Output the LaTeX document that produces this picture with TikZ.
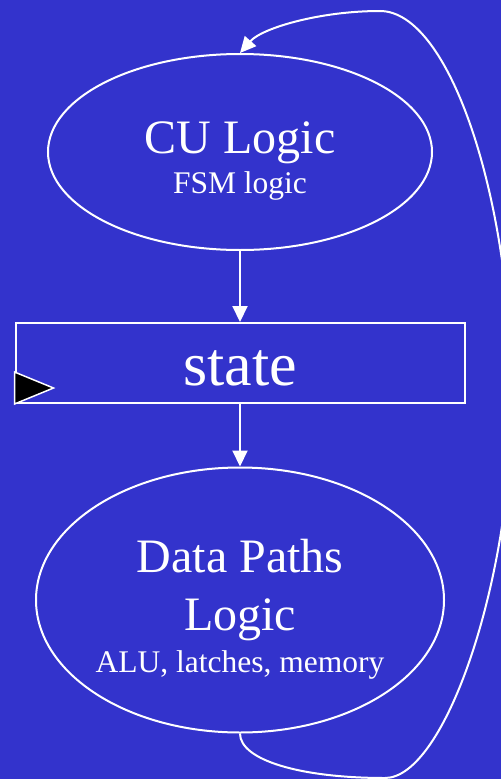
\documentclass[tikz,border=0pt]{standalone}
\usepackage{fontspec}
\setmainfont{Liberation Serif}
\usepackage{tikz}
\usetikzlibrary{shapes.geometric}
\usetikzlibrary{arrows.meta}
\definecolor{slideblue}{RGB}{51,51,204}
\tikzset{every edge/.style={draw, white, line width=2pt, -{Triangle[length=16pt,width=15pt]}}}

\begin{document}
\begin{tikzpicture}[x=1pt, y=-1pt, line width=2pt, white,
    blob/.style={draw, ellipse, inner sep=0pt},
    big/.style={anchor=base, font=\fontsize{48}{48}\selectfont},
    small/.style={anchor=base, font=\fontsize{31.5}{31.5}\selectfont}]
    \fill[slideblue] (0,0) rectangle (501,779);
    \path[use as bounding box] (0,0) rectangle (501,779);

    \node[blob, minimum width=384pt, minimum height=196pt] at (240,152) (CU) {};
    \node[big] at (240,153) (CUname) {CU Logic};
    \node[small] at (240,193) (CUsub) {FSM logic};

    \node[draw, minimum width=449pt, minimum height=80pt, inner sep=0pt] at (240,363) (S) {};
    \node[anchor=base, font=\fontsize{62}{62}\selectfont] at (240,385) (Sname) {state};
    \draw[fill=black, line width=1.5pt] (S.south west) -- ++(0,-32) -- ++(39,16) -- cycle;

    \node[blob, minimum width=408pt, minimum height=265pt] at (240,600) (DP) {};
    \node[big] at (240,572) (DPname) {Data Paths};
    \node[big] at (240,630) (DPname2) {Logic};
    \node[small] at (240,672) (DPsub) {ALU, latches, memory};

    \draw (CU) edge (S);
    \draw (S) edge (DP);
    % feedback from the data paths back up to the control unit
    \draw[-{Triangle[length=16pt,width=15pt]}] (DP.south) .. controls (240,760) and (300,778) .. (385,778)
        .. controls (445,778) and (512,580) .. (512,400)
        .. controls (512,200) and (450,11) .. (380,11)
        .. controls (320,11) and (262,28) .. (CU.north);
\end{tikzpicture}
\end{document}
